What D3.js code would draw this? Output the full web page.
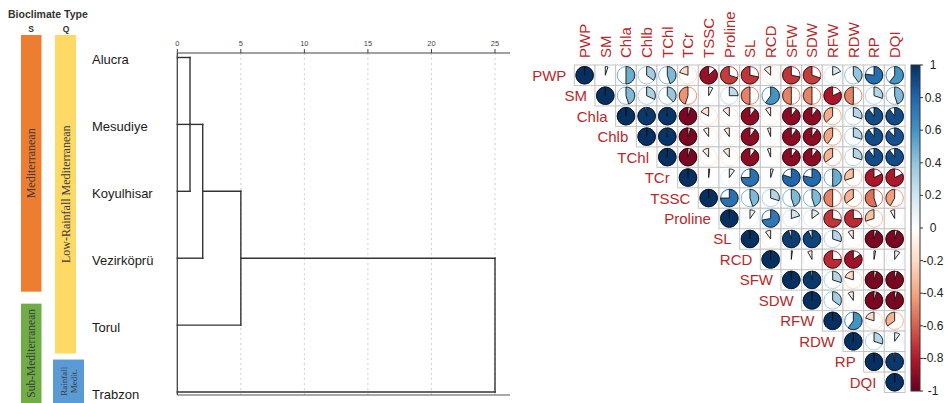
<!DOCTYPE html>
<html>
<head>
<meta charset="utf-8">
<script src="https://cdn.jsdelivr.net/npm/d3@7"></script>
<style>
  body { margin: 0; background: #fff; }
  svg { display: block; }
</style>
</head>
<body>
<svg id="chart" width="946" height="403"></svg>
<script>
// ---------- Data ----------
const sites = ["Alucra", "Mesudiye", "Koyulhisar", "Vezirköprü", "Torul", "Trabzon"];
const distTicks = [0, 5, 10, 15, 20, 25];
// Agglomeration steps (rescaled distance). Children: site index or earlier step "sN".
const mergeSteps = [
  { children: [0, 1, 2], height: 1 },
  { children: ["s0", 3], height: 2 },
  { children: ["s1", 4], height: 5 },
  { children: ["s2", 5], height: 25 }
];
// Bioclimate classes per site range (by Emberger S and Q)
const climateS = [
  { name: ["Mediterranean"], from: 0, to: 3 },
  { name: ["Sub-Mediterranean"], from: 4, to: 5 }
];
const climateQ = [
  { name: ["Low-Rainfall Mediterranean"], from: 0, to: 4 },
  { name: ["Rainfall", "Medit."], from: 5, to: 5 }
];

const vars = ["PWP", "SM", "Chla", "Chlb", "TChl", "TCr", "TSSC", "Proline",
              "SL", "RCD", "SFW", "SDW", "RFW", "RDW", "RP", "DQI"];
// Upper triangle of the correlation matrix, each row starting at the diagonal
const rPWP     = [1, 0.05, 0.5, 0.35, 0.45, -0.2, -0.87, -0.7, -0.72, -0.13, -0.72, -0.7, 0.18, 0.4, 0.77, 0.6];
const rSM      = [1, 0.45, 0.32, 0.38, -0.45, 0.08, 0.25, -0.5, 0.6, -0.5, -0.5, -0.82, -0.5, 0.3, 0.45];
const rChla    = [1, 0.97, 0.98, -0.95, -0.17, -0.13, -0.9, -0.1, -0.9, -0.9, -0.37, 0.3, 0.9, 0.9];
const rChlb    = [1, 0.98, -0.95, -0.1, -0.1, -0.9, -0.06, -0.9, -0.9, -0.4, 0.3, 0.9, 0.88];
const rTChl    = [1, -0.95, -0.12, -0.12, -0.9, -0.06, -0.9, -0.9, -0.35, 0.3, 0.9, 0.9];
const rTCr     = [1, 0.02, 0.1, 0.75, 0.05, 0.8, 0.78, 0.5, -0.3, -0.82, -0.82];
const rTSSC    = [1, 0.75, 0.45, 0.3, 0.45, 0.45, -0.5, -0.35, -0.55, -0.42];
const rProline = [1, 0.1, 0.72, 0.2, 0.15, -0.72, -0.75, -0.3, -0.08];
const rSL      = [1, -0.1, 0.95, 0.93, 0.3, -0.1, -0.95, -0.95];
const rRCD     = [1, 0.02, -0.08, -0.75, -0.85, 0.03, 0.1];
const rSFW     = [1, 0.97, 0.3, -0.2, -0.95, -0.95];
const rSDW     = [1, 0.35, -0.1, -0.95, -0.95];
const rRFW     = [1, 0.6, -0.2, -0.35];
const rRDW     = [1, 0.3, 0.1];
const rRP      = [1, 0.97];
const rDQI     = [1];
const corrRows = [rPWP, rSM, rChla, rChlb, rTChl, rTCr, rTSSC, rProline,
                  rSL, rRCD, rSFW, rSDW, rRFW, rRDW, rRP, rDQI];
const legendTicks = [1, 0.8, 0.6, 0.4, 0.2, 0, -0.2, -0.4, -0.6, -0.8, -1];

// ---------- Styles ----------
const sColors = ["#ED7D31", "#70AD47"];
const qColors = ["#FFD966", "#5B9BD5"];
const rdbu = ["#67001F", "#B2182B", "#D6604D", "#F4A582", "#FDDBC7", "#FFFFFF",
              "#D1E5F0", "#92C5DE", "#4393C3", "#2166AC", "#053061"];
const labelRed = "#B42A2C";
const sans = "'Liberation Sans', Arial, sans-serif";
const serif = "'Liberation Serif', 'Times New Roman', serif";

const svg = d3.select("#chart");

// ---------- Dendrogram ----------
const yLeaf = d3.scalePoint().domain(d3.range(sites.length)).range([57.5, 392]);
const xDist = d3.scaleLinear().domain([0, 25]).range([177.3, 495]);
const axisY = 53, bottomY = 395, frameRight = 510;

const dendro = svg.append("g");

// dotted reference lines
dendro.selectAll("line.grid").data(distTicks.filter(t => t > 0)).join("line")
  .attr("x1", d => xDist(d)).attr("x2", d => xDist(d))
  .attr("y1", axisY).attr("y2", bottomY)
  .attr("stroke", "#cfcfcf").attr("stroke-width", 1).attr("stroke-dasharray", "2,3");

// top axis
dendro.append("line").attr("x1", xDist(0)).attr("x2", frameRight)
  .attr("y1", axisY).attr("y2", axisY).attr("stroke", "#444").attr("stroke-width", 1.2);
dendro.selectAll("line.tick").data(distTicks).join("line")
  .attr("x1", d => xDist(d)).attr("x2", d => xDist(d))
  .attr("y1", axisY - 4).attr("y2", axisY)
  .attr("stroke", "#444").attr("stroke-width", 1);
dendro.selectAll("text.tick").data(distTicks).join("text")
  .attr("x", d => xDist(d)).attr("y", 46)
  .attr("text-anchor", "middle")
  .attr("font-family", sans).attr("font-size", 7.5).attr("fill", "#444")
  .text(d => d);

// left and bottom frame
dendro.append("line").attr("x1", xDist(0)).attr("x2", xDist(0))
  .attr("y1", axisY).attr("y2", bottomY).attr("stroke", "#444").attr("stroke-width", 1.3);
dendro.append("line").attr("x1", xDist(0)).attr("x2", frameRight)
  .attr("y1", bottomY).attr("y2", bottomY).attr("stroke", "#555").attr("stroke-width", 1.2);

// tree links
const nodes = [];
const segs = [];
const nodePos = c => typeof c === "number" ? { y: yLeaf(c), h: 0 } : nodes[+c.slice(1)];
mergeSteps.forEach(m => {
  const ch = m.children.map(nodePos);
  const ys = ch.map(c => c.y);
  ch.forEach(c => segs.push([xDist(c.h), c.y, xDist(m.height), c.y]));
  segs.push([xDist(m.height), d3.min(ys), xDist(m.height), d3.max(ys)]);
  nodes.push({ y: (d3.min(ys) + d3.max(ys)) / 2, h: m.height });
});
dendro.selectAll("line.link").data(segs).join("line")
  .attr("x1", d => d[0]).attr("y1", d => d[1]).attr("x2", d => d[2]).attr("y2", d => d[3])
  .attr("stroke", "#333").attr("stroke-width", 1.4).attr("stroke-linecap", "square");

// site names
svg.selectAll("text.site").data(sites).join("text")
  .attr("x", 92).attr("y", (d, i) => yLeaf(i) + 2)
  .attr("dominant-baseline", "central")
  .attr("font-family", sans).attr("font-size", 13).attr("fill", "#1b1b1b")
  .text(d => d);

// ---------- Bioclimate bars ----------
svg.append("text").attr("x", 8).attr("y", 18)
  .attr("font-family", sans).attr("font-weight", "bold").attr("font-size", 10.5).attr("fill", "#333")
  .text("Bioclimate Type");
svg.append("text").attr("x", 31).attr("y", 32).attr("text-anchor", "middle")
  .attr("font-family", sans).attr("font-weight", "bold").attr("font-size", 8.5).attr("fill", "#333").text("S");
svg.append("text").attr("x", 66).attr("y", 32).attr("text-anchor", "middle")
  .attr("font-family", sans).attr("font-weight", "bold").attr("font-size", 8.5).attr("fill", "#333").text("Q");

const step = yLeaf.step();
function drawClimate(groups, colors, x, w, endOff, startOff, fs) {
  groups.forEach((g, i) => {
    const top = g.from === 0 ? yLeaf(0) - 22.5 : yLeaf(g.from) - step / 2 + startOff;
    const bot = g.to === sites.length - 1 ? 410 : yLeaf(g.to) + step / 2 - endOff;
    svg.append("rect").attr("x", x[i]).attr("y", top).attr("width", w[i]).attr("height", bot - top)
      .attr("fill", colors[i]);
    const cy = g.to === sites.length - 1 ? (top + 403) / 2 : (top + bot) / 2;
    const cx = x[i] + w[i] / 2;
    const t = svg.append("text")
      .attr("transform", `translate(${cx},${cy}) rotate(-90)`)
      .attr("text-anchor", "middle")
      .attr("font-family", serif).attr("font-size", fs[i]).attr("fill", "#3a3a3a");
    const n = g.name.length;
    g.name.forEach((line, k) => {
      t.append("tspan").attr("x", 0)
        .attr("dy", k === 0 ? `${0.35 - (n - 1) * 0.55}em` : "1.1em")
        .text(line);
    });
  });
}
drawClimate(climateS, sColors, [21, 21], [20.5, 20.5], 0, 12, [12, 11.5]);
drawClimate(climateQ, qColors, [55, 53], [21, 31], 5, 1, [12, 9]);

// ---------- Correlation plot ----------
const n = vars.length;
const gx = d3.scaleBand().domain(d3.range(n)).range([574.3, 905]);
const gy = d3.scaleBand().domain(d3.range(n)).range([65, 392.5]);
const color = d3.scaleLinear().domain(d3.range(11).map(i => -1 + i * 0.2)).range(rdbu)
  .interpolate(d3.interpolateRgb);
const rad = 0.425 * Math.min(gx.bandwidth(), gy.bandwidth());

const cells = [];
corrRows.forEach((row, i) => row.forEach((v, k) => cells.push({ i, j: i + k, v })));

const cg = svg.append("g");
cg.selectAll("rect").data(cells).join("rect")
  .attr("x", d => gx(d.j)).attr("y", d => gy(d.i))
  .attr("width", gx.bandwidth()).attr("height", gy.bandwidth())
  .attr("fill", "#fff").attr("stroke", "#c4c4c4").attr("stroke-width", 1);

const cxOf = d => gx(d.j) + gx.bandwidth() / 2;
const cyOf = d => gy(d.i) + gy.bandwidth() / 2;

cg.selectAll("circle").data(cells).join("circle")
  .attr("cx", cxOf).attr("cy", cyOf).attr("r", rad)
  .attr("fill", "none").attr("stroke", d => color(d.v)).attr("stroke-width", 1);

function piePath(d) {
  const cx = cxOf(d), cy = cyOf(d);
  const end = 2 * Math.PI * d.v;
  const k = Math.max(2, Math.ceil(Math.abs(d.v) * 60));
  const pts = [[cx, cy]];
  for (let s = 0; s <= k; s++) {
    const a = end * s / k;
    pts.push([cx + rad * Math.sin(a), cy - rad * Math.cos(a)]);
  }
  return "M" + pts.map(p => p[0].toFixed(2) + "," + p[1].toFixed(2)).join("L") + "Z";
}
cg.selectAll("path.pie").data(cells).join("path")
  .attr("d", piePath)
  .attr("fill", d => color(d.v))
  .attr("stroke", "#111").attr("stroke-width", 0.9).attr("stroke-linejoin", "round");

// row labels (left of the diagonal)
svg.selectAll("text.rowlab").data(vars).join("text")
  .attr("x", (d, i) => gx(i) - 8)
  .attr("y", (d, i) => gy(i) + gy.bandwidth() / 2)
  .attr("text-anchor", "end").attr("dominant-baseline", "central")
  .attr("font-family", sans).attr("font-size", 15).attr("fill", labelRed)
  .text(d => d);

// column labels (rotated)
svg.selectAll("text.collab").data(vars).join("text")
  .attr("transform", (d, i) => `translate(${gx(i) + gx.bandwidth() / 2},58) rotate(-90)`)
  .attr("dy", "0.36em")
  .attr("font-family", sans).attr("font-size", 15).attr("fill", labelRed)
  .text(d => d);

// ---------- Colour legend ----------
const lx = 911, lw = 9;
const ly = d3.scaleLinear().domain([1, -1]).range([65, 391]);
const grad = svg.append("defs").append("linearGradient")
  .attr("id", "rdbuGrad").attr("x1", 0).attr("y1", 1).attr("x2", 0).attr("y2", 0);
d3.range(0, 1.0001, 0.02).forEach(t => {
  grad.append("stop").attr("offset", t).attr("stop-color", color(-1 + 2 * t));
});
svg.append("rect").attr("x", lx).attr("y", ly(1)).attr("width", lw).attr("height", ly(-1) - ly(1))
  .attr("fill", "url(#rdbuGrad)").attr("stroke", "#333").attr("stroke-width", 1);
svg.selectAll("line.ltick").data(legendTicks).join("line")
  .attr("x1", lx + lw).attr("x2", lx + lw + 3)
  .attr("y1", d => ly(d)).attr("y2", d => ly(d))
  .attr("stroke", "#333").attr("stroke-width", 1);
svg.selectAll("text.ltick").data(legendTicks).join("text")
  .attr("x", 933).attr("y", d => ly(d))
  .attr("text-anchor", "middle").attr("dominant-baseline", "central")
  .attr("font-family", sans).attr("font-size", 12).attr("fill", "#222")
  .text(d => d);
</script>
</body>
</html>
